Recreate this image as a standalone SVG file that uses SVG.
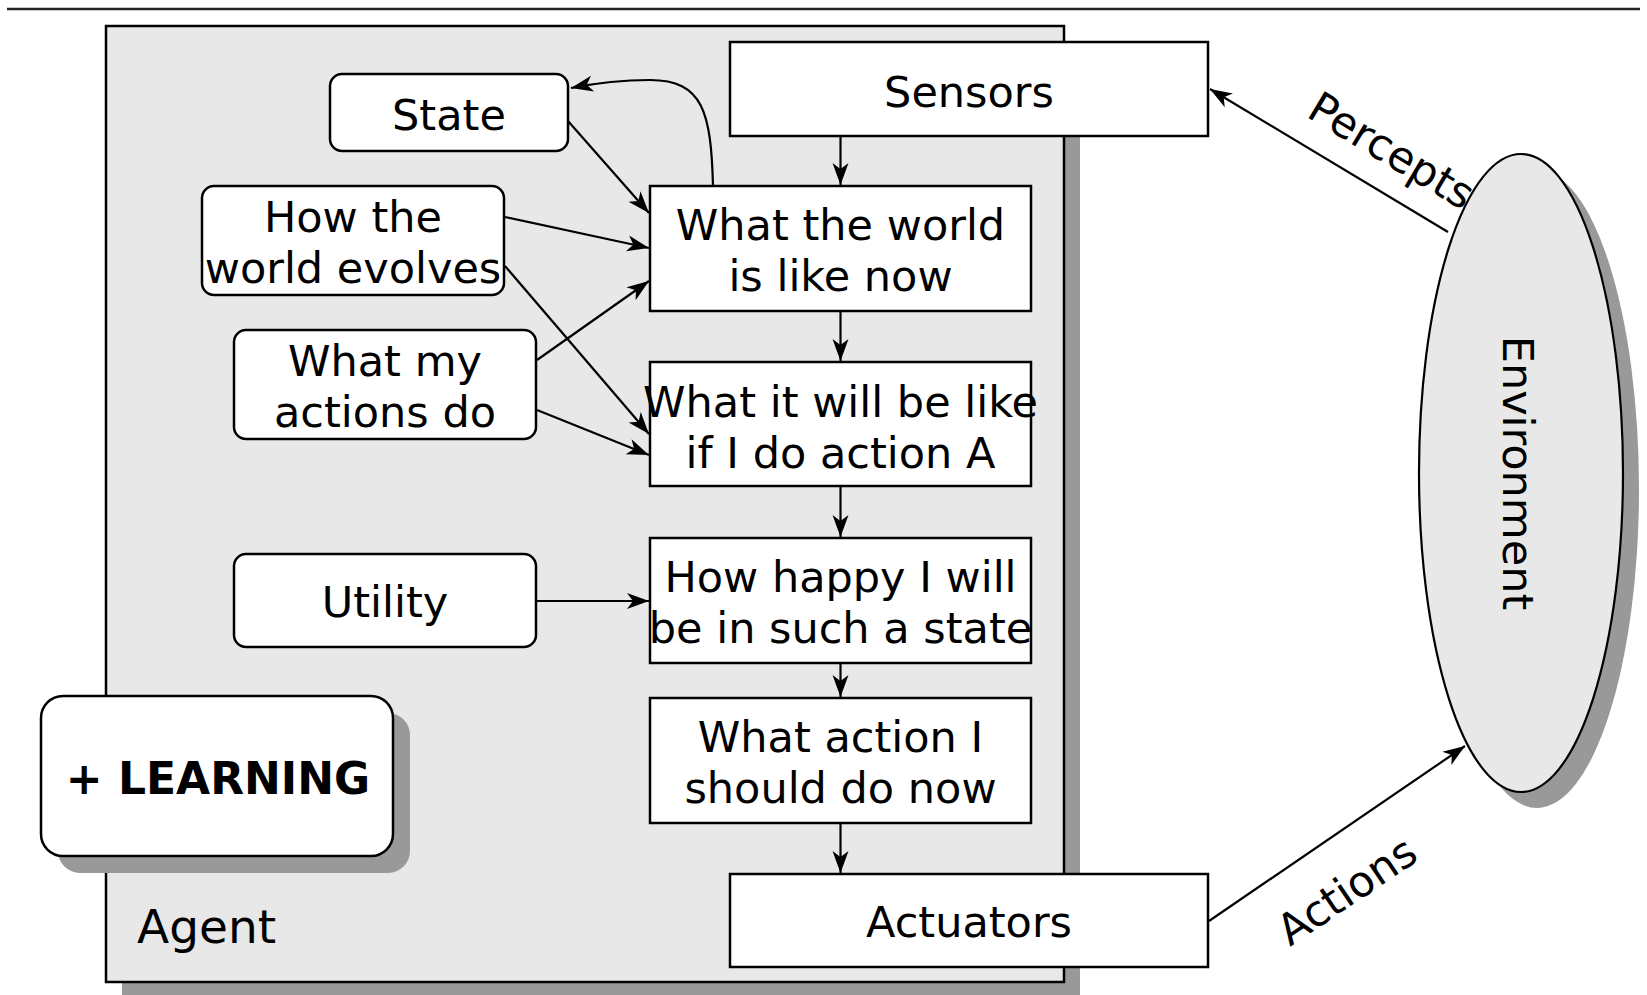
<svg xmlns="http://www.w3.org/2000/svg" width="1647" height="995" viewBox="0 0 1647 995">
  <defs>
    <style>
      .box{fill:#fff;stroke:#000;stroke-width:2.5}
      .shadow{fill:#999}
      .t{font-family:"DejaVu Sans","Verdana",sans-serif;font-size:43px;fill:#000;text-anchor:middle}
      .b{font-weight:bold;font-size:44px}
      .conn{fill:none;stroke:#000;stroke-width:2.2}
    </style>
    <marker id="arr" markerUnits="userSpaceOnUse" viewBox="-24 -10 26 20" markerWidth="26" markerHeight="20" refX="0" refY="0" orient="auto">
      <path d="M0,0 L-22,-8 L-16,0 L-22,8 Z" fill="#000"/>
    </marker>
  </defs>

  <rect width="1647" height="995" fill="#fff"/>

  <!-- header rule -->
  <line x1="7" y1="9" x2="1640" y2="9" stroke="#222" stroke-width="2.5"/>

  <!-- agent container -->
  <g id="agent">
    <rect class="shadow" x="122" y="42" width="958" height="956"/>
    <rect x="106" y="26" width="958" height="956" fill="#e8e8e8" stroke="#000" stroke-width="2.5"/>
    <text class="t" x="137" y="943" style="text-anchor:start;font-size:47px">Agent</text>
  </g>

  <!-- environment -->
  <g id="environment">
    <ellipse class="shadow" cx="1537" cy="489" rx="102" ry="319"/>
    <ellipse cx="1521" cy="473" rx="102" ry="319" fill="#e8e8e8" stroke="#000" stroke-width="2.2"/>
    <text class="t" transform="translate(1503,473) rotate(90)">Environment</text>
  </g>

  <g id="learning">
    <rect class="shadow" x="58" y="713" width="352" height="160" rx="22"/>
    <rect class="box" x="41" y="696" width="352" height="160" rx="22"/>
    <text class="t b" x="218" y="794">+ LEARNING</text>
  </g>

  <g id="state">
    <rect class="box" x="330" y="74" width="238" height="77" rx="12"/>
    <text class="t" x="449" y="130">State</text>
  </g>

  <g id="world-evolves">
    <rect class="box" x="202" y="186" width="302" height="109" rx="12"/>
    <text class="t" x="353" y="232">How the</text>
    <text class="t" x="353" y="283">world evolves</text>
  </g>

  <g id="actions-do">
    <rect class="box" x="234" y="330" width="302" height="109" rx="12"/>
    <text class="t" x="385" y="376">What my</text>
    <text class="t" x="385" y="427">actions do</text>
  </g>

  <g id="utility">
    <rect class="box" x="234" y="554" width="302" height="93" rx="12"/>
    <text class="t" x="385" y="617">Utility</text>
  </g>

  <g id="sensors">
    <rect class="box" x="730" y="42" width="478" height="94"/>
    <text class="t" x="969" y="107">Sensors</text>
  </g>

  <g id="world-now">
    <rect class="box" x="650" y="186" width="381" height="125"/>
    <text class="t" x="840.5" y="240">What the world</text>
    <text class="t" x="840.5" y="291">is like now</text>
  </g>

  <g id="will-be">
    <rect class="box" x="650" y="362" width="381" height="124"/>
    <text class="t" x="840.5" y="417">What it will be like</text>
    <text class="t" x="840.5" y="468">if I do action A</text>
  </g>

  <g id="happy">
    <rect class="box" x="650" y="538" width="381" height="125"/>
    <text class="t" x="840.5" y="592">How happy I will</text>
    <text class="t" x="840.5" y="643">be in such a state</text>
  </g>

  <g id="action-now">
    <rect class="box" x="650" y="698" width="381" height="125"/>
    <text class="t" x="840.5" y="752">What action I</text>
    <text class="t" x="840.5" y="803">should do now</text>
  </g>

  <g id="actuators">
    <rect class="box" x="730" y="874" width="478" height="93"/>
    <text class="t" x="969" y="937">Actuators</text>
  </g>

  <!-- connectors -->
  <g id="connectors" class="conn" marker-end="url(#arr)">
    <path class="conn" d="M840.5,137 L840.5,185" marker-end="url(#arr)"/>
    <path class="conn" d="M840.5,312 L840.5,361" marker-end="url(#arr)"/>
    <path class="conn" d="M840.5,487 L840.5,537" marker-end="url(#arr)"/>
    <path class="conn" d="M840.5,664 L840.5,697" marker-end="url(#arr)"/>
    <path class="conn" d="M840.5,824 L840.5,873" marker-end="url(#arr)"/>
    <path class="conn" d="M568,121 L649,213" marker-end="url(#arr)"/>
    <path class="conn" d="M505,217 L649,248" marker-end="url(#arr)"/>
    <path class="conn" d="M505,266 L649,434" marker-end="url(#arr)"/>
    <path class="conn" d="M537,360 L649,281" marker-end="url(#arr)"/>
    <path class="conn" d="M537,410 L649,455" marker-end="url(#arr)"/>
    <path class="conn" d="M536,601 L649,601" marker-end="url(#arr)"/>
    <path class="conn" d="M713,186 C711,112 703,80 650,80 C620,80 596,83 571,88" marker-end="url(#arr)"/>
    <path class="conn" d="M1448,232 L1210,89" marker-end="url(#arr)"/>
    <path class="conn" d="M1209,921 L1465,746" marker-end="url(#arr)"/>
    <text class="t" transform="translate(1305,116) rotate(31)" style="text-anchor:start;stroke:none">Percepts</text>
    <text class="t" transform="translate(1290,947) rotate(-34)" style="text-anchor:start;stroke:none">Actions</text>
  </g>
</svg>
